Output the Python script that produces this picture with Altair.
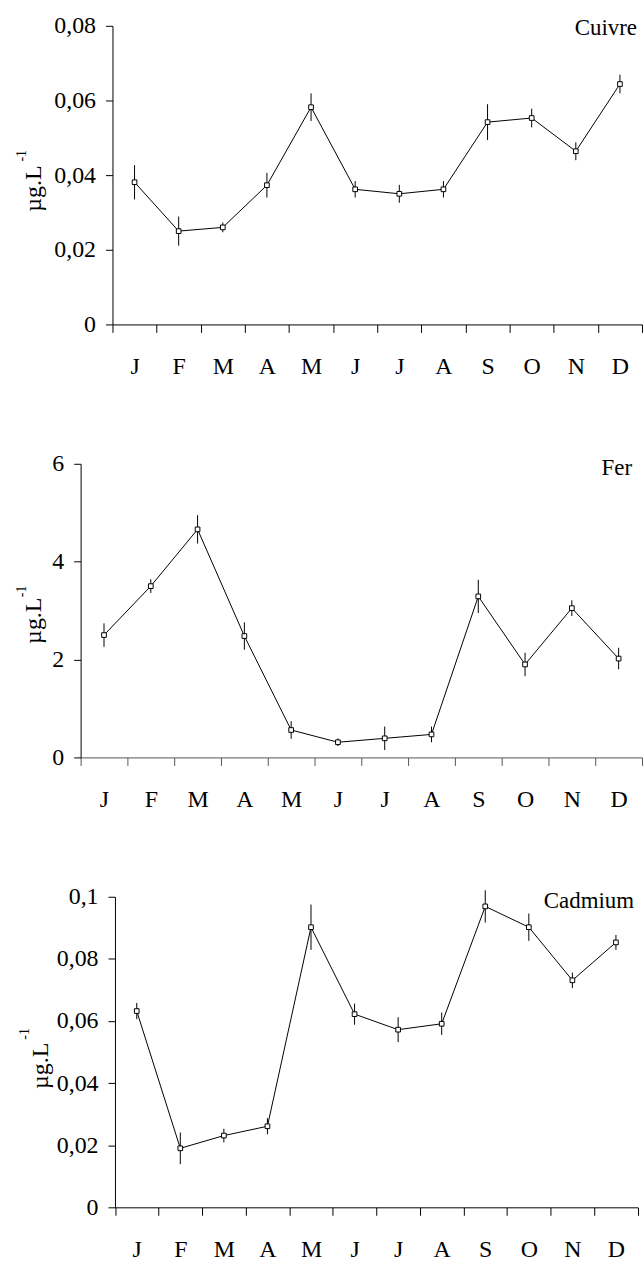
import altair as alt
import pandas as pd

# Month keys (unique) — the axis shows only their first letter
months = ["Jan", "Fév", "Mar", "Avr", "Mai", "Juin", "Juil", "Août", "Sep", "Oct", "Nov", "Déc"]

# Monthly means and standard errors (µg.L-1)
cuivre = [0.0381, 0.0250, 0.0260, 0.0373, 0.0582, 0.0362, 0.0350, 0.0362, 0.0542, 0.0553, 0.0464, 0.0644]
cuivre_err = [0.0046, 0.0039, 0.0013, 0.0033, 0.0037, 0.0022, 0.0024, 0.0022, 0.0048, 0.0025, 0.0024, 0.0025]

fer = [2.50, 3.50, 4.66, 2.48, 0.56, 0.31, 0.39, 0.47, 3.29, 1.90, 3.05, 2.02]
fer_err = [0.24, 0.14, 0.29, 0.28, 0.18, 0.08, 0.24, 0.16, 0.34, 0.24, 0.16, 0.22]

cadmium = [0.0632, 0.0190, 0.0231, 0.0261, 0.0902, 0.0622, 0.0572, 0.0591, 0.0969, 0.0902, 0.0731, 0.0853]
cadmium_err = [0.0026, 0.0051, 0.0022, 0.0026, 0.0073, 0.0034, 0.0040, 0.0036, 0.0052, 0.0044, 0.0025, 0.0024]

cuivre_ticks = [0, 0.02, 0.04, 0.06, 0.08]
fer_ticks = [0, 2, 4, 6]
cadmium_ticks = [0, 0.02, 0.04, 0.06, 0.08, 0.1]

FONT = "Liberation Serif"
PANEL_W = 564


def panel(name, values, errors, ticks, height, x0, x1, name_pos, title_pos, sup_pos, xcolor):
    df = pd.DataFrame({
        "mois": months,
        "v": values,
        "lo": [v - e for v, e in zip(values, errors)],
        "hi": [v + e for v, e in zip(values, errors)],
    })
    xenc = alt.X(
        "mois:N", sort=months,
        scale=alt.Scale(type="band", paddingInner=0, paddingOuter=0, range=[x0, x1]),
        axis=alt.Axis(title=None, labelExpr="substring(datum.label, 0, 1)", tickBand="extent",
                      labelAngle=0, tickSize=8, labelPadding=22, domainColor=xcolor,
                      tickColor=xcolor),
    )
    yscale = alt.Scale(domain=[ticks[0], ticks[-1]], nice=False, zero=True)
    yaxis = alt.Axis(
        title=None, values=ticks, offset=-x0, tickSize=7, labelPadding=10,
        labelExpr="datum.value == 0 ? '0' : replace(format(datum.value, '.2~f'), '.', ',')",
    )
    base = alt.Chart(df)
    errbars = base.mark_rule(color="black", strokeWidth=1).encode(
        x=xenc, y=alt.Y("lo:Q", scale=yscale, axis=yaxis), y2="hi:Q")
    line = base.mark_line(color="black", strokeWidth=1).encode(
        x=xenc, y=alt.Y("v:Q", scale=yscale, axis=yaxis))
    pts = base.mark_square(size=22, filled=False, fill="white", fillOpacity=1,
                           stroke="black", strokeWidth=1, opacity=1).encode(
        x=xenc, y=alt.Y("v:Q", scale=yscale, axis=yaxis))

    label = alt.Chart(pd.DataFrame({"t": [name]})).mark_text(
        font=FONT, fontSize=23, align="right", baseline="alphabetic", color="black"
    ).encode(text="t:N", x=alt.value(name_pos[0]), y=alt.value(name_pos[1]))

    unit = alt.Chart(pd.DataFrame({"t": ["µg.L"]})).mark_text(
        font=FONT, fontSize=24, angle=270, align="center", baseline="alphabetic", color="black"
    ).encode(text="t:N", x=alt.value(title_pos[0]), y=alt.value(title_pos[1]))
    sup = alt.Chart(pd.DataFrame({"t": ["-1"]})).mark_text(
        font=FONT, fontSize=14, angle=270, align="center", baseline="alphabetic", color="black"
    ).encode(text="t:N", x=alt.value(sup_pos[0]), y=alt.value(sup_pos[1]))

    return alt.layer(errbars, line, pts, label, unit, sup).properties(width=PANEL_W, height=height)


p1 = panel("Cuivre", cuivre, cuivre_err, cuivre_ticks, 300, 32, 564,
           (559, 9), (-40, 163.5), (-55, 130.5), "black")
p2 = panel("Fer", fer, fer_err, fer_ticks, 295, 0, 564,
           (554, 11), (-40, 157.7), (-55, 128.2), "#555555")
p3 = panel("Cadmium", cadmium, cadmium_err, cadmium_ticks, 312, 34.5, 559.7,
           (556, 11), (-33, 169.8), (-52, 137.8), "black")

chart = alt.vconcat(p1, p2, p3, spacing=74).configure(
    padding={"left": 15, "top": 11, "right": 0, "bottom": 0},
    background="white",
).configure_view(stroke=None).configure_axis(
    labelFont=FONT, labelFontSize=24, labelColor="black", domainColor="black",
    tickColor="black", domainWidth=1, tickWidth=1, grid=False,
)

chart.save("out.html", embed_options={"renderer": "svg", "actions": False})
